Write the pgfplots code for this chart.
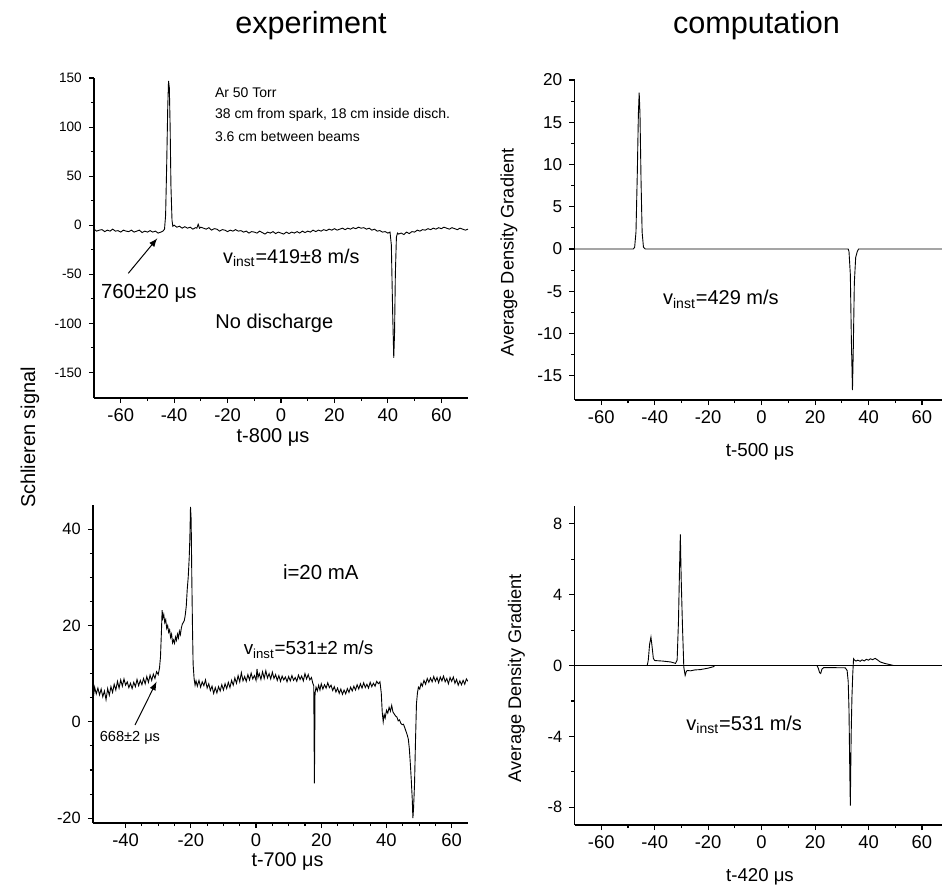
\documentclass[border=0pt]{standalone}
\usepackage{pgfplots}
\pgfplotsset{compat=1.18}
\usepackage{fontspec}
\setmainfont{Liberation Sans}
\newcommand{\fs}[1]{\fontsize{#1}{#1}\selectfont}
\pgfplotsset{
  myax/.style={
    scale only axis, anchor=south west,
    axis x line*=bottom, axis y line*=left,
    axis line style={line width=0.65pt,-},
    tick align=outside, major tick length=2.6pt, minor tick length=1.6pt,
    tick style={line width=0.55pt, black},
    no markers, cycle list={{black, line width=0.45pt}},
    /pgf/number format/assume math mode=true,
    x tick label style={font=\fs{9.2}, yshift=1pt},
    minor x tick num=1,
  }
}
\begin{document}
\begin{tikzpicture}
\useasboundingbox (0,0) rectangle (471pt,442pt);
% ---------------- top left: experiment, no discharge
\begin{axis}[myax, at={(47pt,243pt)}, width=187pt, height=160pt,
  xmin=-70, xmax=70, ymin=-176, ymax=150,
  xtick={-60,-40,...,60}, ytick={-150,-100,...,150}, minor y tick num=1,
  y tick label style={font=\fs{6.8}}]
\addplot[black, line width=0.45pt] coordinates {
(-70,-4) (-69,-6) (-68,-5) (-67,-4.5) (-66,-6.5) (-65,-5) (-64,-6) (-63,-4) (-62,-6) (-61,-5.5)
(-60,-7) (-59,-5) (-58,-6) (-57,-6.5) (-56,-5) (-55,-7) (-54,-6) (-53,-5) (-52,-7.5) (-51,-6)
(-50,-7) (-49,-5.5) (-48,-7) (-47,-6) (-46,-8) (-45,-7) (-44.2,-6) (-43.6,-4) (-43.2,10) (-42.8,60)
(-42.4,120) (-42.1,147) (-41.8,140) (-41.5,100) (-41.2,40) (-40.8,5) (-40.5,-1) (-40,0) (-39,-2) (-38,-1)
(-37,-3) (-36,-1.5) (-35,-3) (-34,-2) (-33,-4) (-32,-2.5) (-31.5,-3) (-31,1) (-30.5,-3) (-30,-2) (-29,-3) (-28,-4)
(-27,-2.5) (-26,-5) (-25,-3.5) (-24,-4) (-23,-6) (-22,-4.5) (-21,-5) (-20,-6.5) (-19,-5) (-18,-6)
(-17,-4.5) (-16,-6) (-15,-5.5) (-14,-7) (-13,-6) (-12,-8) (-11,-6.5) (-10,-7) (-9,-8) (-8,-6)
(-7,-7.5) (-6,-9) (-5,-7) (-4,-8) (-3,-6.5) (-2,-8.5) (-1,-7) (0,-8) (1,-9) (2,-7)
(3,-8.5) (4,-7) (5,-8) (6,-6.5) (7,-8) (8,-6) (9,-7.5) (10,-6) (11,-7) (12,-5)
(13,-6.5) (14,-5) (15,-6) (16,-4.5) (17,-5.5) (18,-4) (19,-5) (20,-3.5) (21,-5) (22,-4)
(23,-3) (24,-4.5) (25,-3) (26,-4) (27,-2.5) (28,-3.5) (29,-2) (30,-3) (31,-2.5) (32,-4)
(33,-3) (34,-5) (35,-4) (36,-6) (37,-5.5) (38,-7) (39,-6.5) (40,-8) (40.8,-7) (41.3,-20)
(41.8,-90) (42.2,-135) (42.5,-110) (42.8,-50) (43.2,-12) (43.6,-8) (44,-9) (45,-8) (46,-9.5) (47,-7)
(48,-8.5) (49,-6.5) (50,-7) (51,-5) (52,-6) (53,-4.5) (54,-5) (55,-3.5) (56,-4.5) (57,-3)
(58,-4) (59,-2.5) (60,-3.5) (61,-2) (62,-3) (63,-4) (64,-2.5) (65,-3.5) (66,-4.5) (67,-3)
(68,-4) (69,-5) (70,-4)};
\end{axis}
% ---------------- top right: computation
\begin{axis}[myax, at={(287.25pt,242pt)}, width=183.75pt, height=160pt,
  xmin=-70, xmax=67.5, ymin=-17.87, ymax=20,
  xtick={-60,-40,...,60}, ytick={-15,-10,...,20}, minor y tick num=1,
  y tick label style={font=\fs{8.6}}]
\addplot[black, line width=0.45pt] coordinates {
(-70,0) (-48,0) (-47.5,0.2) (-47,2) (-46.5,9) (-46.1,16) (-45.8,18.5) (-45.5,16) (-45.1,8) (-44.7,2)
(-44.2,0.2) (-43.5,0) (32.4,0) (32.7,-0.3) (33.2,-3) (33.6,-11) (34.0,-16.7) (34.3,-12) (34.7,-4) (35.2,-1)
(35.8,-0.3) (36.3,0) (67.5,0)};
\end{axis}
% ---------------- bottom left: experiment, i=20 mA
\begin{axis}[myax, at={(46.5pt,30.5pt)}, width=187.5pt, height=159pt,
  xmin=-50, xmax=65, ymin=-21, ymax=45,
  xtick={-40,-20,...,60}, minor x tick num=3, ytick={-20,0,20,40}, minor y tick num=3,
  y tick label style={font=\fs{8.2}}]
\addplot[black, line width=0.45pt] coordinates {
(-50.0,4.5) (-49.5,7.2) (-49.0,5.8) (-48.5,7.0) (-48.0,5.6) (-47.5,6.8) (-47.0,5.2) (-46.5,6.4) (-46.0,4.6) (-45.5,6.9)
(-45.0,5.5) (-44.5,7.3) (-44.0,6.1) (-43.5,7.8) (-43.0,6.6) (-42.5,8.4) (-42.0,7.0) (-41.5,8.7) (-41.0,7.4) (-40.5,8.9)
(-40.0,7.6) (-39.5,8.3) (-39.0,7.1) (-38.5,8.0) (-38.0,6.9) (-37.5,8.2) (-37.0,7.3) (-36.5,8.8) (-36.0,7.5) (-35.5,8.6)
(-35.0,7.7) (-34.5,9.0) (-34.0,7.9) (-33.5,9.4) (-33.0,8.2) (-32.5,9.7) (-32.0,8.6) (-31.5,9.9) (-31.0,9.0) (-30.5,10.4)
(-30.0,9.8) (-29.6,11.2) (-29.3,13.5) (-29.0,19) (-28.8,23.2) (-28.6,21.5) (-28.3,22.3) (-28.0,20.6) (-27.7,21.2) (-27.4,19.4)
(-27.1,20.0) (-26.8,18.6) (-26.5,19.1) (-26.2,17.5) (-25.9,18.2) (-25.6,16.4) (-25.3,17.0) (-25.0,16.3) (-24.7,17.6) (-24.4,16.9)
(-24.1,18.2) (-23.8,17.4) (-23.5,18.8) (-23.2,18.1) (-22.9,19.5) (-22.6,20.3) (-22.3,20.6) (-22.0,21.0) (-21.7,22.2) (-21.4,24.0)
(-21.1,27.5) (-20.8,30.0) (-20.5,34.0) (-20.3,38) (-20.1,44.6) (-19.9,42) (-19.7,30) (-19.5,20) (-19.3,12) (-19.0,9.0)
(-18.7,7.6) (-18.4,8.5) (-18.0,7.4) (-17.5,8.6) (-17.0,7.2) (-16.5,8.3) (-16.0,7.5) (-15.5,8.7) (-15.0,7.0) (-14.5,7.9)
(-14.0,6.5) (-13.5,7.4) (-13.0,5.9) (-12.5,7.1) (-12.0,6.0) (-11.5,7.3) (-11.0,6.4) (-10.5,7.7) (-10.0,6.6) (-9.5,7.9)
(-9.0,6.9) (-8.5,8.2) (-8.0,7.1) (-7.5,8.6) (-7.0,7.6) (-6.5,9.1) (-6.0,8.0) (-5.5,9.6) (-5.0,8.3) (-4.5,10.2)
(-4.0,8.5) (-3.5,9.4) (-3.0,8.4) (-2.5,9.8) (-2.0,8.7) (-1.5,10.1) (-1.0,8.9) (-0.5,9.6) (0.0,8.6) (0.3,11.0)
(0.6,9.2) (1.0,10.0) (1.5,8.8) (2.0,10.4) (2.5,9.0) (3.0,10.6) (3.5,9.1) (4.0,10.0) (4.5,8.9) (5.0,10.3)
(5.5,9.0) (6.0,9.8) (6.5,8.6) (7.0,9.6) (7.5,8.4) (8.0,9.5) (8.5,8.7) (9.0,9.3) (9.5,8.3) (10.0,9.4)
(10.5,8.5) (11.0,9.6) (11.5,8.6) (12.0,9.2) (12.5,8.4) (13.0,9.7) (13.5,8.8) (14.0,9.5) (14.5,8.5) (15.0,10.0)
(15.5,8.9) (16.0,9.8) (16.5,8.7) (17.0,9.2) (17.4,8.0) (17.7,7.5) (17.9,-12.8) (18.1,6.0) (18.4,7.2) (18.8,6.4)
(19.2,7.6) (19.6,6.6) (20.0,7.9) (20.5,6.8) (21.0,7.7) (21.5,7.0) (22.0,8.1) (22.5,7.1) (23.0,7.6) (23.5,6.5)
(24.0,7.3) (24.5,6.2) (25.0,7.0) (25.5,5.9) (26.0,6.8) (26.5,5.7) (27.0,6.6) (27.5,5.8) (28.0,6.9) (28.5,6.1)
(29.0,7.2) (29.5,6.4) (30.0,7.4) (30.5,6.6) (31.0,7.7) (31.5,6.8) (32.0,7.9) (32.5,7.0) (33.0,8.1) (33.5,7.1)
(34.0,7.8) (34.5,7.0) (35.0,8.2) (35.5,7.3) (36.0,8.0) (36.5,7.4) (37.0,8.4) (37.5,7.9) (38.0,8.3) (38.4,6.0)
(38.7,2.0) (39.0,0.0) (39.3,1.5) (39.6,0.8) (40.0,2.4) (40.4,1.8) (40.8,3.0) (41.2,2.2) (41.6,3.4) (42.0,2.0)
(42.4,1.6) (42.8,1.2) (43.2,1.0) (43.6,0.2) (44.0,0.4) (44.4,-0.3) (44.8,-0.6) (45.2,-0.5) (45.6,-1.2) (46.0,-2.0)
(46.4,-2.8) (46.7,-3.6) (47.0,-5.5) (47.3,-8.5) (47.6,-12) (47.9,-16) (48.1,-20) (48.3,-18) (48.6,-13) (48.9,-4)
(49.2,3.8) (49.5,6.0) (49.8,7.2) (50.2,6.8) (50.6,8.0) (51.0,7.4) (51.5,8.6) (52.0,7.8) (52.5,9.0) (53.0,8.2)
(53.5,9.1) (54.0,8.3) (54.5,9.4) (55.0,8.4) (55.5,9.2) (56.0,8.1) (56.5,9.3) (57.0,8.5) (57.5,9.5) (58.0,8.3)
(58.5,9.0) (59.0,7.9) (59.5,9.2) (60.0,8.4) (60.5,9.3) (61.0,8.0) (61.5,8.8) (62.0,7.6) (62.5,8.5) (63.0,7.7)
(63.5,8.6) (64.0,7.8) (64.5,8.9) (65.0,8.4)};
\end{axis}
% ---------------- bottom right: computation
\begin{axis}[myax, at={(287.25pt,29.5pt)}, width=183.75pt, height=159.5pt,
  xmin=-70, xmax=67.5, ymin=-9, ymax=9,
  xtick={-60,-40,...,60}, ytick={-8,-4,0,4,8}, minor y tick num=1,
  y tick label style={font=\fs{8.2}}]
\addplot[black, line width=0.4pt] coordinates {(-70,0) (67.5,0)};
\addplot[black, line width=0.45pt] coordinates {
(-70,0) (-42.8,0) (-42.4,0.3) (-41.9,1.2) (-41.4,1.6) (-41.0,1.1) (-40.5,0.4) (-40,0.28) (-37,0.25) (-34,0.2)
(-32.2,0.12) (-31.6,0.3) (-31.1,2.5) (-30.7,5.5) (-30.4,7.4) (-30.1,5) (-29.6,2.2) (-29.1,-0.1) (-28.6,-0.56) (-28.2,-0.35)
(-27.8,-0.28) (-26.6,-0.3) (-25,-0.25) (-22.9,-0.23) (-20,-0.15) (-17.9,-0.06) (-17.5,0) (20.7,0) (21.2,-0.15) (21.7,-0.4)
(22.1,-0.45) (22.6,-0.2) (23.2,-0.12) (26,-0.12) (31.3,-0.13) (32,-0.28) (32.4,-0.9) (32.7,-2.5) (33.0,-6) (33.2,-7.9)
(33.5,-4) (33.8,-1.8) (34.1,-0.5) (34.4,0.38) (34.8,0.3) (35.3,0.25) (36,0.3) (36.9,0.24) (37.6,0.32) (38.4,0.26)
(39.2,0.35) (40,0.3) (40.7,0.38) (41.5,0.33) (42.5,0.4) (43.5,0.3) (44.4,0.2) (46,0.12) (48,0.05) (49.4,0) (67.5,0)};
\end{axis}
% ---------------- titles and labels
\node[anchor=base,font=\fs{15.3}] at (155.5pt,425.3pt) {experiment};
\node[anchor=base,font=\fs{15.3}] at (378.25pt,425.3pt) {computation};
\node[anchor=base,rotate=90,font=\fs{10}] at (17.5pt,223.3pt) {Schlieren signal};
\node[anchor=base,rotate=90,font=\fs{9.1}] at (256.75pt,315.75pt) {Average Density Gradient};
\node[anchor=base,rotate=90,font=\fs{9.1}] at (260.5pt,103pt) {Average Density Gradient};
\node[inner sep=0pt,font=\fs{10}] at (136.5pt,223.5pt) {t-800 μs};
\node[inner sep=0pt,font=\fs{9.4}] at (380pt,216.2pt) {t-500 μs};
\node[inner sep=0pt,font=\fs{9.9}] at (143.75pt,11.5pt) {t-700 μs};
\node[inner sep=0pt,font=\fs{9.3}] at (380pt,3.6pt) {t-420 μs};
% annotations top left
\node[anchor=west,font=\fs{7}] at (104pt,395.5pt) {Ar 50 Torr};
\node[anchor=west,font=\fs{7}] at (104pt,384.5pt) {38 cm from spark, 18 cm inside disch.};
\node[anchor=west,font=\fs{7}] at (104pt,373.5pt) {3.6 cm between beams};
\node[anchor=base west,inner sep=0pt,font=\fs{9.9}] at (111.35pt,310.3pt) {v\textsubscript{inst}=419±8 m/s};
\node[anchor=base west,inner sep=0pt,font=\fs{10.2}] at (50.3pt,292.8pt) {760±20 μs};
\node[anchor=base west,inner sep=0pt,font=\fs{10}] at (107.5pt,277.8pt) {No discharge};
\draw[-latex,line width=0.5pt] (64.15pt,305.35pt) -- (78.65pt,322.85pt);
% top right
\node[anchor=base west,inner sep=0pt,font=\fs{10}] at (331.35pt,289.5pt) {v\textsubscript{inst}=429 m/s};
% bottom left
\node[anchor=base west,inner sep=0pt,font=\fs{10.2}] at (141.3pt,152.3pt) {i=20 mA};
\node[anchor=base west,inner sep=0pt,font=\fs{9.4}] at (121.7pt,114.5pt) {v\textsubscript{inst}=531±2 m/s};
\node[anchor=base west,inner sep=0pt,font=\fs{7.3}] at (49.7pt,71.2pt) {668±2 μs};
\draw[-latex,line width=0.5pt] (67.5pt,79.5pt) -- (78.3pt,101.2pt);
% bottom right
\node[anchor=base west,inner sep=0pt,font=\fs{10}] at (343pt,77pt) {v\textsubscript{inst}=531 m/s};
\end{tikzpicture}
\end{document}
